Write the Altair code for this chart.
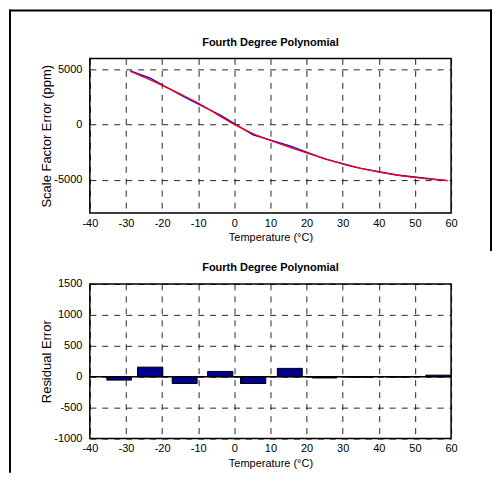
import altair as alt
import pandas as pd

FONT = "Liberation Sans, Arial, sans-serif"

# ---- data ----
fit_temp = [-28.8, -25, -20, -15, -10, -5, 0, 5, 10, 15, 20, 25, 30, 35, 40, 45, 50, 55, 59]
fit_ppm = [4830, 4300, 3560, 2780, 1950, 980, 30, -780, -1420, -2010, -2560, -3080,
           -3560, -3960, -4290, -4560, -4770, -4950, -5060]

meas_temp = [-28.8, -23.3, -13.75, -3.9, 5.2, 15.35, 25, 35, 45, 56.5, 59]
meas_ppm = [4870, 4210, 2480, 860, -920, -1915, -3100, -3960, -4555, -4985, -5070]

bar_start = [-35.3, -26.8, -17.2, -7.4, 1.7, 11.9, 21.6, 31.5, 42, 53]
bar_end = [-28.5, -19.8, -10.3, -0.4, 8.7, 18.8, 28.4, 38.5, 49, 60]
residual = [-55, 155, -110, 85, -110, 135, -20, -8, -5, 25]

x_ticks = [-40, -30, -20, -10, 0, 10, 20, 30, 40, 50, 60]
top_y_ticks = [-5000, 0, 5000]
bot_y_ticks = [-1000, -500, 0, 500, 1000, 1500]

panel_title = "Fourth Degree Polynomial"
x_title = "Temperature (°C)"
top_y_title = "Scale Factor Error (ppm)"
bot_y_title = "Residual Error"

W, H = 362, 155

df_fit = pd.DataFrame({"t": fit_temp, "v": fit_ppm})
df_meas = pd.DataFrame({"t": meas_temp, "v": meas_ppm})
df_bar = pd.DataFrame({"s": bar_start, "e": bar_end, "r": residual})
one = pd.DataFrame({"k": [0]})

xscale = alt.Scale(domain=[-40, 60], nice=False, zero=False)
top_yscale = alt.Scale(domain=[-8000, 6000], nice=False, zero=False)
bot_yscale = alt.Scale(domain=[-1000, 1500], nice=False, zero=False)

common = dict(grid=True, gridColor="black", gridDash=[6, 6], gridWidth=1, gridOpacity=0.85,
              domain=False, ticks=False, tickSize=0, labelFont=FONT, labelFontSize=11,
              labelColor="black", labelOverlap=False, titleColor="black",
              titleFontWeight="normal", labelExpr="'' + datum.value", tickCount=30)


def x_axis():
    return alt.Axis(values=x_ticks, title=x_title, labelPadding=4, titleY=25,
                    titleBaseline="middle", labelFlush=False, titleFont=FONT,
                    titleFontSize=11, **common)


def y_axis(vals, title):
    return alt.Axis(values=vals, title=title, labelPadding=8, titleX=-43,
                    titleBaseline="middle", titleFont=FONT, titleFontSize=13, **common)


def frame_bar(x1, x2, y1, y2):
    # page-frame line drawn as a thin filled rect (exact bounds, no stroke)
    return alt.Chart(one).mark_rect(color="black", strokeWidth=0).encode(
        x=alt.value(x1), x2=alt.value(x2), y=alt.value(y1), y2=alt.value(y2))


def title_mark(y):
    return alt.Chart(one).mark_text(text=panel_title, font=FONT, fontSize=11, fontWeight="bold",
                                    align="center", baseline="middle", color="black").encode(
        x=alt.value(W / 2), y=alt.value(y))


# ---- top panel ----
top_x = alt.X("t:Q", scale=xscale, axis=x_axis())
top_y = alt.Y("v:Q", scale=top_yscale, axis=y_axis(top_y_ticks, top_y_title))

meas_line = alt.Chart(df_meas).mark_line(color="#0000FF", strokeWidth=1.3).encode(x=top_x, y=top_y)
fit_line = alt.Chart(df_fit).mark_line(color="#FF0000", strokeWidth=1.3,
                                       interpolate="monotone").encode(x=top_x, y=top_y)

top = alt.layer(
    meas_line, fit_line,
    frame_bar(-81, -79, -49, 415),
    frame_bar(-81, 403, -49, -47),
    frame_bar(401, 403, -49, 193),
    title_mark(-15),
).properties(width=W, height=H)

# ---- bottom panel ----
bars = alt.Chart(df_bar).mark_rect(fill="#000090", stroke="black", strokeWidth=1).encode(
    x=alt.X("s:Q", scale=xscale, axis=x_axis()),
    x2="e:Q",
    y=alt.Y("r:Q", scale=bot_yscale, axis=y_axis(bot_y_ticks, bot_y_title)),
    y2=alt.datum(0),
)
zero_line = alt.Chart(one).mark_rule(color="black", strokeWidth=1.5).encode(
    x=alt.X(datum=-40, scale=xscale, axis=x_axis()),
    x2=alt.datum(60),
    y=alt.Y(datum=0, scale=bot_yscale, axis=y_axis(bot_y_ticks, bot_y_title)),
)

bottom = alt.layer(
    bars, zero_line,
    frame_bar(-81, -79, -45, 189),
    title_mark(-16),
).properties(width=W, height=H)

chart = alt.vconcat(top, bottom, spacing=71, bounds="flush").properties(
    padding=0, background="white"
).configure_view(stroke="black", strokeWidth=1.5)

chart.save("out.html", embed_options={"renderer": "svg", "actions": False})
